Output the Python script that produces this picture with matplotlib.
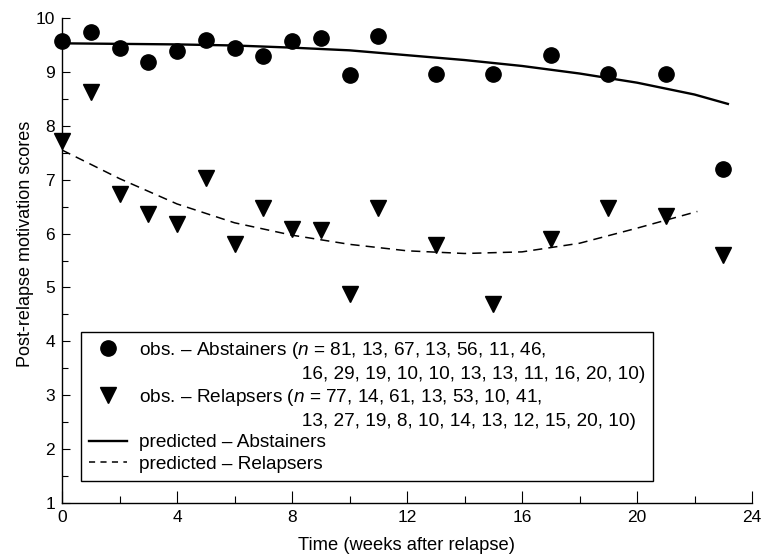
import matplotlib
matplotlib.use("Agg")
import matplotlib.pyplot as plt
from matplotlib.lines import Line2D
from matplotlib.ticker import MultipleLocator

FAM = ['Liberation Sans', 'DejaVu Sans']
plt.rcParams['font.family'] = FAM
plt.rcParams['mathtext.fontset'] = 'custom'
plt.rcParams['mathtext.it'] = 'Liberation Sans:italic'
plt.rcParams['mathtext.rm'] = 'Liberation Sans'

# ---- data ----
weeks = [0, 1, 2, 3, 4, 5, 6, 7, 8, 9, 10, 11, 13, 15, 17, 19, 21, 23]
abstainers_obs = [9.57, 9.74, 9.45, 9.18, 9.39, 9.60, 9.44, 9.30, 9.57, 9.63,
                  8.95, 9.66, 8.97, 8.97, 9.32, 8.97, 8.97, 7.20]
relapsers_obs = [7.71, 8.62, 6.74, 6.36, 6.17, 7.04, 5.80, 6.47, 6.09, 6.07,
                 4.87, 6.47, 5.78, 4.69, 5.90, 6.47, 6.33, 5.61]

pred_abs_weeks = [0, 2, 4, 6, 8, 10, 12, 14, 16, 18, 20, 22, 23.2]
pred_abs = [9.53, 9.52, 9.51, 9.49, 9.45, 9.40, 9.31, 9.22, 9.11, 8.97, 8.80, 8.58, 8.40]

pred_rel_weeks = [0, 2, 4, 6, 8, 10, 12, 14, 16, 18, 20, 22.1]
pred_rel = [7.55, 7.02, 6.55, 6.20, 5.97, 5.80, 5.68, 5.63, 5.66, 5.82, 6.10, 6.41]

n_abs_1 = "81, 13, 67, 13, 56, 11, 46,"
n_abs_2 = "16, 29, 19, 10, 10, 13, 13, 11, 16, 20, 10)"
n_rel_1 = "77, 14, 61, 13, 53, 10, 41,"
n_rel_2 = "13, 27, 19, 8, 10, 14, 13, 12, 15, 20, 10)"

xticks = [0, 4, 8, 12, 16, 20, 24]
yticks = [1, 2, 3, 4, 5, 6, 7, 8, 9, 10]

# ---- figure ----
fig = plt.figure(figsize=(7.64, 5.56), dpi=100)
ax = fig.add_axes([62/764, 1-503/556, 690/764, 485/556])

ax.plot(pred_abs_weeks, pred_abs, color='black', lw=1.7, solid_capstyle='butt')
ax.plot(pred_rel_weeks, pred_rel, color='black', lw=1.1, dashes=(6, 4))
ax.plot(weeks, abstainers_obs, linestyle='none', marker='o', ms=11,
        color='black', clip_on=False)
ax.plot(weeks, relapsers_obs, linestyle='none', marker='v', ms=12,
        color='black', clip_on=False)

ax.set_xlim(0, 24)
ax.set_ylim(1, 10)
ax.set_xticks(xticks)
ax.set_yticks(yticks)
ax.xaxis.set_minor_locator(MultipleLocator(2))
ax.yaxis.set_minor_locator(MultipleLocator(0.5))
ax.tick_params(axis='x', which='major', direction='in', length=9, width=0.8,
               labelsize=12.5, pad=5)
ax.tick_params(axis='x', which='minor', direction='in', length=5, width=0.8)
ax.tick_params(axis='y', which='major', direction='in', length=5.5, width=0.8,
               labelsize=12.5, pad=5)
ax.tick_params(axis='y', which='minor', direction='in', length=4, width=0.8)
for s in ['top', 'right']:
    ax.spines[s].set_visible(False)
for s in ['left', 'bottom']:
    ax.spines[s].set_linewidth(1.0)

ax.set_xlabel('Time (weeks after relapse)', fontsize=13.2, labelpad=9)
ax.set_ylabel('Post-relapse motivation scores', fontsize=13)
ax.yaxis.set_label_coords(-0.041, 0.535)

# ---- legend ----
indent = ' ' * 31
handles = [
    Line2D([], [], linestyle='none', marker='o', ms=11, color='black'),
    Line2D([], [], linestyle='none'),
    Line2D([], [], linestyle='none', marker='v', ms=12, color='black'),
    Line2D([], [], linestyle='none'),
    Line2D([], [], color='black', lw=1.7),
    Line2D([], [], color='black', lw=1.1, dashes=(4, 3.5)),
]
labels = [
    'obs. \u2013 Abstainers ($n$ = ' + n_abs_1,
    indent + n_abs_2,
    'obs. \u2013 Relapsers ($n$ = ' + n_rel_1,
    indent + n_rel_2,
    'predicted \u2013 Abstainers',
    'predicted \u2013 Relapsers',
]
leg = ax.legend(handles, labels, loc='upper left',
                bbox_to_anchor=(18.7/690, 171/485), borderaxespad=0,
                fontsize=13.7, frameon=True, fancybox=False, framealpha=1,
                edgecolor='black', handlelength=2.0, handletextpad=0.62,
                borderpad=0.42, labelspacing=0.23, numpoints=1)
leg.get_frame().set_linewidth(1.0)

fig.savefig('out.png', dpi=100)
